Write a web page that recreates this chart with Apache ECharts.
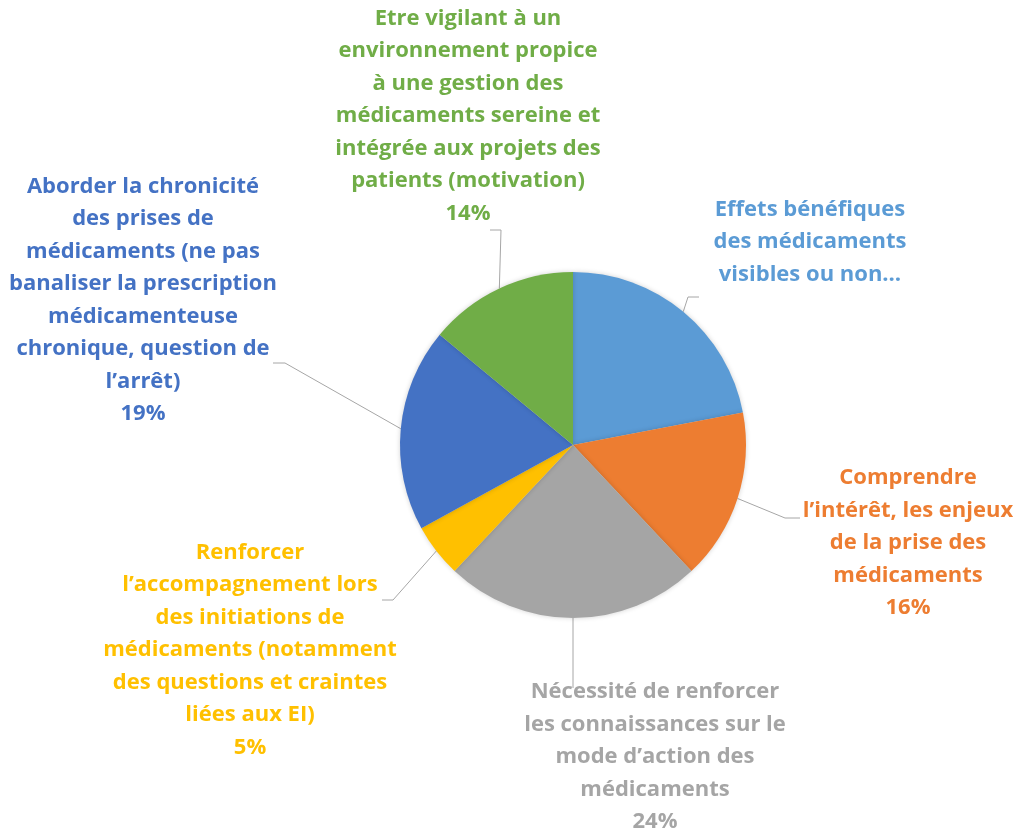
<!DOCTYPE html>
<html>
<head>
<meta charset="utf-8">
<script src="https://cdn.jsdelivr.net/npm/echarts@6/dist/echarts.min.js"></script>
<style>
  html, body { margin: 0; padding: 0; background: #fff; }
  #chart { width: 1020px; height: 834px; }
</style>
</head>
<body>
<div id="chart"></div>
<script>
// données (part en %)
const categories = [
  'Effets bénéfiques\ndes médicaments\nvisibles ou non…',
  'Comprendre\nl’intérêt, les enjeux\nde la prise des\nmédicaments',
  'Nécessité de renforcer\nles connaissances sur le\nmode d’action des\nmédicaments',
  'Renforcer\nl’accompagnement lors\ndes initiations de\nmédicaments (notamment\ndes questions et craintes\nliées aux EI)',
  'Aborder la chronicité\ndes prises de\nmédicaments (ne pas\nbanaliser la prescription\nmédicamenteuse\nchronique, question de\nl’arrêt)',
  'Etre vigilant à un\nenvironnement propice\nà une gestion des\nmédicaments sereine et\nintégrée aux projets des\npatients (motivation)'
];
const values = [22, 16, 24, 5, 19, 14];
const colors = ['#5B9BD5', '#ED7D31', '#A5A5A5', '#FFC000', '#4472C4', '#70AD47'];

// placement des étiquettes (centre du bloc) et coudes des lignes de rappel
const labelPos = [[810, 242], [908, 543], [655, 757], [250, 650], [143, 300], [468, 116]];
const elbows = [
  [[688, 297], [699, 297]],
  [[785, 518], [800, 518]],
  [[573, 688], [573, 688]],
  [[393, 600], [382, 600]],
  [[285, 363], [273, 363]],
  [[501, 230], [490, 230]]
];

const chart = echarts.init(document.getElementById('chart'));

const option = {
  animation: false,
  series: [{
    type: 'pie',
    center: [573, 445],
    radius: 173,
    startAngle: 90,
    clockwise: true,
    avoidLabelOverlap: false,
    itemStyle: {
      borderWidth: 0,
      shadowBlur: 5,
      shadowColor: 'rgba(0,0,0,0.18)'
    },
    label: {
      show: true,
      position: 'outside',
      fontFamily: 'Open Sans',
      fontWeight: 'bold',
      fontSize: 22,
      lineHeight: 32.5,
      align: 'center',
      formatter: function (p) {
        if (p.name.endsWith('…')) return p.name;
        return p.name + '\n' + Math.round(p.percent) + '%';
      }
    },
    labelLine: {
      show: true,
      length: 10,
      length2: 10,
      smooth: false,
      lineStyle: { color: '#A6A6A6', width: 1 }
    },
    labelLayout: function (params) {
      const i = params.dataIndex;
      const pts = params.labelLinePoints;
      const out = {
        x: labelPos[i][0],
        y: labelPos[i][1],
        align: 'center',
        verticalAlign: 'middle'
      };
      if (pts) {
        out.labelLinePoints = [pts[0], elbows[i][0], elbows[i][1]];
      }
      return out;
    },
    data: categories.map(function (c, i) {
      return {
        name: c,
        value: values[i],
        itemStyle: { color: colors[i] },
        label: { color: colors[i] }
      };
    })
  }]
};

chart.setOption(option);
</script>
</body>
</html>
